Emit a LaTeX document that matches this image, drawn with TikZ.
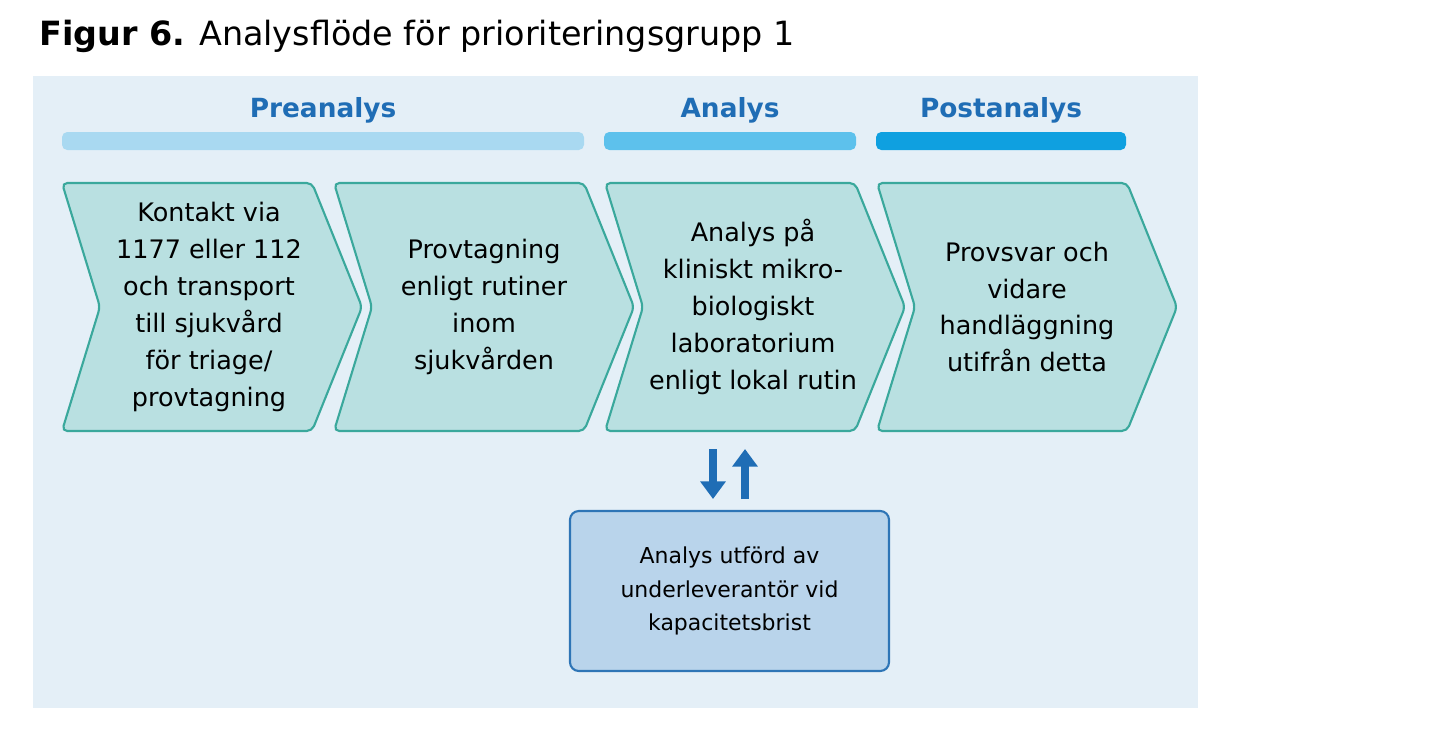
\documentclass[tikz,border=0pt]{standalone}
\usepackage{fontspec}
\setmainfont{DejaVu Sans}
\usetikzlibrary{arrows.meta}
\definecolor{panel}{HTML}{E4EFF7}
\definecolor{chevfill}{HTML}{B9E0E1}
\definecolor{chevline}{HTML}{3AA89C}
\definecolor{headblue}{HTML}{1F6DB5}
\definecolor{barA}{HTML}{A9D9F1}
\definecolor{barB}{HTML}{5DC1EC}
\definecolor{barC}{HTML}{0FA0E0}
\definecolor{boxfill}{HTML}{B9D4EB}
\definecolor{boxline}{HTML}{2E75B6}
\tikzset{
  head/.style={text=headblue,font=\fontsize{15}{18}\selectfont\bfseries},
  bar/.style={rounded corners=3pt},
  chev/.style={fill=chevfill,draw=chevline,line width=1.2pt,rounded corners=3pt},
  chevtext/.style={align=center,font=\fontsize{14.5}{21}\selectfont},
  arr/.style={draw=headblue,line width=4.5pt,-{Triangle[length=10pt,width=14pt]}}
}
\begin{document}
\begin{tikzpicture}[x=0.02cm,y=-0.02cm]
  \useasboundingbox (0,0) rectangle (1452,748);
  \node[anchor=west,font=\fontsize{19}{22}\selectfont] (title) at (33,36) {\textbf{Figur 6.} Analysflöde för prioriteringsgrupp 1};
  \fill[panel] (33,76) rectangle (1198,708);
  % headers
  \fill[barA,bar] (62,132) rectangle (584,150);
  \fill[barB,bar] (604,132) rectangle (856,150);
  \fill[barC,bar] (876,132) rectangle (1126,150);
  \node[head] (pre) at (323,110) {Preanalys};
  \node[head] (ana) at (730,110) {Analys};
  \node[head] (post) at (1001,110) {Postanalys};
  % chevrons
  \foreach \x in {62,334,605,877}
    \draw[chev] (\x,183) -- (\x+250,183) -- (\x+300,307) -- (\x+250,431)
      -- (\x,431) -- (\x+38,307) -- cycle;
  \node[chevtext] (c1) at (209,307) {Kontakt via\\1177 eller 112\\och transport\\till sjukvård\\för triage/\\provtagning};
  \node[chevtext] (c2) at (484,307) {Provtagning\\enligt rutiner\\inom\\sjukvården};
  \node[chevtext] (c3) at (753,307) {Analys på\\kliniskt mikro-\\biologiskt\\laboratorium\\enligt lokal rutin};
  \node[chevtext] (c4) at (1027,307) {Provsvar och\\vidare\\handläggning\\utifrån detta};
  % sub box
  \node[draw=boxline,fill=boxfill,line width=1.2pt,rounded corners=5pt,minimum width=319*0.02cm,
        minimum height=160*0.02cm,align=center,font=\fontsize{12.5}{19}\selectfont] (sub) at (729.5,591)
        {Analys utförd av\\underleverantör vid\\kapacitetsbrist};
  \coordinate (dtop) at (713,449);
  \coordinate (dbot) at (713,499);
  \coordinate (utop) at (745,449);
  \coordinate (ubot) at (745,499);
  \draw[arr] (dtop) -- (dbot);
  \draw[arr] (ubot) -- (utop);
\end{tikzpicture}
\end{document}
